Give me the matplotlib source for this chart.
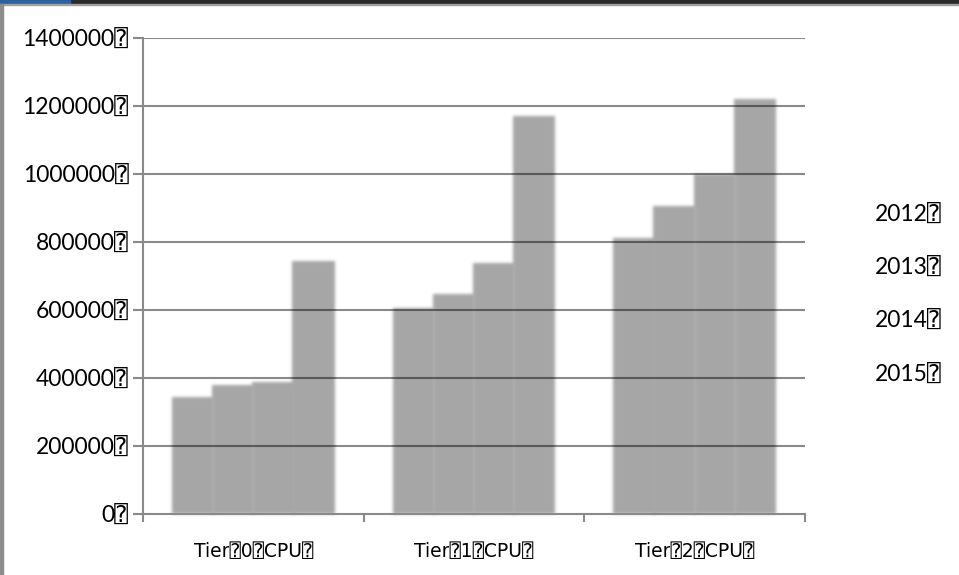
import matplotlib
matplotlib.use("Agg")
import matplotlib.pyplot as plt
from matplotlib.colors import to_rgb
from matplotlib.patches import Rectangle
import numpy as np

# CPU capacity per tier, one series per year
tiers = ["Tier\u23700\u2370CPU\u2370", "Tier\u23701\u2370CPU\u2370", "Tier\u23702\u2370CPU\u2370"]
years = ["2012", "2013", "2014", "2015"]
cpu_2012 = [344000, 606000, 812000]
cpu_2013 = [378000, 646000, 906000]
cpu_2014 = [388000, 738000, 1000000]
cpu_2015 = [745000, 1172000, 1220000]
series = [cpu_2012, cpu_2013, cpu_2014, cpu_2015]
yticks = [0, 200000, 400000, 600000, 800000, 1000000, 1200000, 1400000]

bar_color = "#a6a6a6"
line_grey = "#8a8a8a"
num_font = ["Lato", "DejaVu Sans", "DejaVu Sans Mono"]
cat_font = ["DejaVu Sans", "DejaVu Sans Mono"]


def soft_edges(sigma, color):
    # agg filter: gaussian blur of the alpha channel, solid colour underneath
    rgb = np.array(to_rgb(color))
    r = int(3 * sigma) + 1
    k = np.exp(-0.5 * (np.arange(-r, r + 1) / sigma) ** 2)
    k /= k.sum()

    def f(im, dpi):
        ny, nx, _ = im.shape
        a = np.zeros((ny + 4 * r, nx + 4 * r))
        a[2 * r:2 * r + ny, 2 * r:2 * r + nx] = im[:, :, 3]
        b = np.zeros_like(a)
        for i, w in enumerate(k):
            b[:, r:-r] += w * a[:, i:i + a.shape[1] - 2 * r]
        c = np.zeros_like(a)
        for i, w in enumerate(k):
            c[r:-r, :] += w * b[i:i + a.shape[0] - 2 * r, :]
        out = np.empty(a.shape + (4,))
        out[:, :, :3] = rgb
        out[:, :, 3] = c
        return out, -2 * r, -2 * r
    return f


fig = plt.figure(figsize=(9.59, 5.75), dpi=100)
ax = fig.add_axes([143 / 959, 1 - 514 / 575, (805 - 143) / 959, (514 - 38) / 575])
ax.set_xlim(-0.5, len(tiers) - 0.5)
ax.set_ylim(0, 1400000)

bw = 0.182
idx = np.arange(len(tiers))
blur = soft_edges(1.5, bar_color)
for i, vals in enumerate(series):
    xs = idx + (i - (len(series) - 1) / 2) * bw
    # drawn a touch wider so neighbours overlap and the seams stay faint
    bars = ax.bar(xs, vals, width=bw + 0.01, color=bar_color, linewidth=0, zorder=1)
    for b in bars:
        b.set_agg_filter(blur)

# gridlines sit on top of the bars
for t in yticks[1:]:
    ax.axhline(t, color="black", alpha=0.46, linewidth=1.5, zorder=3)

for s in ["top", "right"]:
    ax.spines[s].set_visible(False)
for s in ["left", "bottom"]:
    ax.spines[s].set_color(line_grey)
    ax.spines[s].set_linewidth(1.5)
    ax.spines[s].set_zorder(4)

ax.set_yticks(yticks)
ax.set_yticklabels([f"{t}\u2370" for t in yticks], family=num_font, fontsize=16.5)
ax.tick_params(axis="y", length=7, width=1.5, color=line_grey, pad=3.5)

ax.set_xticks(idx)
ax.set_xticklabels(tiers, family=cat_font, fontsize=13.5)
ax.set_xticks(np.arange(len(tiers) + 1) - 0.5, minor=True)
ax.tick_params(axis="x", which="major", length=0, pad=20)
ax.tick_params(axis="x", which="minor", length=6, width=1.5, color=line_grey)

# year labels on the right
for i, yr in enumerate(years):
    fig.text(875 / 959, 1 - (215 + i * 53.3) / 575, yr + "\u2370",
             family=num_font, fontsize=16.5, va="center", ha="left")

# window border
fig.patches.append(Rectangle((0, 1 - 4 / 575), 1, 4 / 575, transform=fig.transFigure,
                             color="#2b2b2b", zorder=0))
fig.patches.append(Rectangle((0, 1 - 4 / 575), 70 / 959, 4 / 575, transform=fig.transFigure,
                             color="#2e5f9e", zorder=0))
fig.patches.append(Rectangle((0, 1 - 5 / 575), 1, 1.2 / 575, transform=fig.transFigure,
                             color="#a0a0a0", zorder=0))
fig.patches.append(Rectangle((0, 0), 2.5 / 959, 1 - 4 / 575, transform=fig.transFigure,
                             color="#8c8c8c", zorder=0))

fig.savefig("out.png", dpi=100)
